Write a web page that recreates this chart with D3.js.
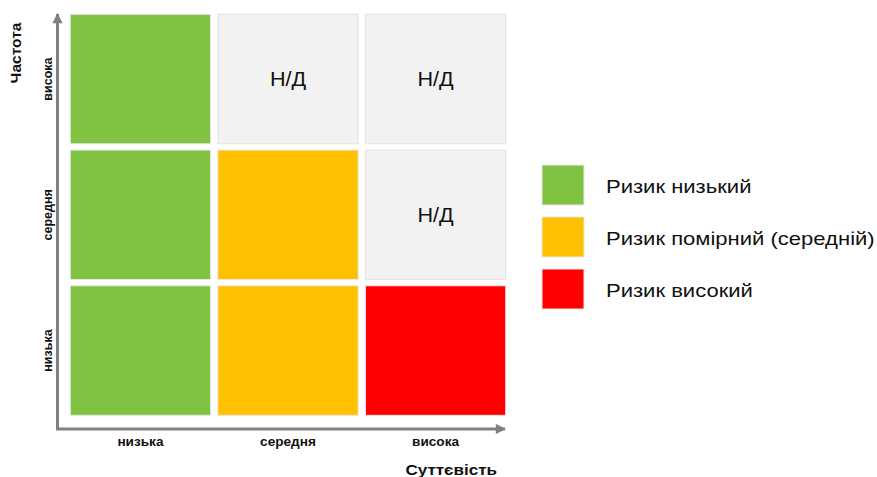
<!DOCTYPE html>
<html>
<head>
<meta charset="utf-8">
<script src="https://cdn.jsdelivr.net/npm/d3@7"></script>
<style>
  body { margin: 0; background: #fff; }
  svg { font-family: "Liberation Sans", Arial, sans-serif; }
</style>
</head>
<body>
<div id="chart"></div>
<script>
// categories
const severity = ["низька", "середня", "висока"];
const frequency = ["висока", "середня", "низька"]; // top to bottom
// risk level per cell, rows = frequency (top to bottom), cols = severity
const levels = [
  ["low", "na", "na"],
  ["low", "med", "na"],
  ["low", "med", "high"]
];
const legendKeys = ["low", "med", "high"];
const legendLabels = ["Ризик низький", "Ризик помірний (середній)", "Ризик високий"];
const naLabel = "Н/Д";

const colors = { low: "#80c342", med: "#ffc000", high: "#ff0000", na: "#f2f2f2" };

const width = 877, height = 477;
const svg = d3.select("#chart").append("svg")
  .attr("width", width)
  .attr("height", height);

const x = d3.scaleBand().domain(severity).range([70.3, 505.7]).paddingInner(0.049);
const y = d3.scaleBand().domain(frequency).range([14.3, 415.3]).paddingInner(0.046);

const cells = [];
levels.forEach((row, i) => row.forEach((lv, j) => cells.push({ f: frequency[i], s: severity[j], lv })));

svg.append("g").selectAll("rect")
  .data(cells)
  .join("rect")
  .attr("x", d => x(d.s))
  .attr("y", d => y(d.f))
  .attr("width", x.bandwidth())
  .attr("height", y.bandwidth())
  .attr("fill", d => colors[d.lv])
  .attr("stroke", d => d.lv == "na" ? "#e2e2e2" : "#e8e8e8")
  .attr("stroke-width", 1);

// text in the source is a bit wider than Liberation Sans, so stretch it horizontally
svg.append("g").selectAll("text")
  .data(cells.filter(d => d.lv == "na"))
  .join("text")
  .attr("transform", d => `translate(${x(d.s) + x.bandwidth() / 2},${y(d.f) + y.bandwidth() / 2}) scale(1.08,1)`)
  .attr("dy", "0.35em")
  .attr("text-anchor", "middle")
  .attr("font-size", 20)
  .attr("fill", "#111")
  .text(naLabel);

// axes with arrows
const defs = svg.append("defs");
defs.append("marker")
  .attr("id", "arrow")
  .attr("viewBox", "0 0 10 10")
  .attr("refX", 9).attr("refY", 5)
  .attr("markerWidth", 4).attr("markerHeight", 3.4)
  .attr("orient", "auto")
  .attr("markerUnits", "strokeWidth")
  .append("path")
  .attr("d", "M0,0L10,5L0,10Z")
  .attr("fill", "#808080");

const ax = 57.5, ay = 429;
svg.append("path")
  .attr("d", `M${ax},${ay}V14`)
  .attr("stroke", "#808080").attr("stroke-width", 3).attr("fill", "none")
  .attr("marker-end", "url(#arrow)");
svg.append("path")
  .attr("d", `M${ax - 1.5},${ay}H505`)
  .attr("stroke", "#808080").attr("stroke-width", 3).attr("fill", "none")
  .attr("marker-end", "url(#arrow)");

// x tick labels
svg.append("g").selectAll("text")
  .data(severity)
  .join("text")
  .attr("transform", d => `translate(${x(d) + x.bandwidth() / 2},442) scale(1.09,1)`)
  .attr("dy", "0.35em")
  .attr("text-anchor", "middle")
  .attr("font-size", 12.5)
  .attr("font-weight", "bold")
  .attr("fill", "#111")
  .text(d => d);

// y tick labels
svg.append("g").selectAll("text")
  .data(frequency)
  .join("text")
  .attr("transform", d => `translate(48,${y(d) + y.bandwidth() / 2}) rotate(-90)`)
  .attr("dy", "0.35em")
  .attr("text-anchor", "middle")
  .attr("font-size", 12.5)
  .attr("font-weight", "bold")
  .attr("fill", "#111")
  .text(d => d);

// axis titles
svg.append("text")
  .attr("transform", "translate(497,470) scale(1.1,1)")
  .attr("dy", "0.35em")
  .attr("text-anchor", "end")
  .attr("font-size", 15.5)
  .attr("font-weight", "bold")
  .attr("fill", "#111")
  .text("Суттєвість");

svg.append("text")
  .attr("transform", "translate(16,53) rotate(-90)")
  .attr("dy", "0.35em")
  .attr("text-anchor", "middle")
  .attr("font-size", 15.5)
  .attr("font-weight", "bold")
  .attr("fill", "#111")
  .text("Частота");

// legend
const lg = svg.append("g").selectAll("g")
  .data(legendKeys)
  .join("g")
  .attr("transform", (d, i) => `translate(542,${165 + i * 52})`);
lg.append("rect")
  .attr("width", 42).attr("height", 40)
  .attr("fill", d => colors[d])
  .attr("stroke", "#e8e8e8");
lg.append("text")
  .attr("transform", "translate(64,21.5) scale(1.16,1)")
  .attr("dy", "0.35em")
  .attr("font-size", 19)
  .attr("fill", "#111")
  .text((d, i) => legendLabels[i]);
</script>
</body>
</html>
